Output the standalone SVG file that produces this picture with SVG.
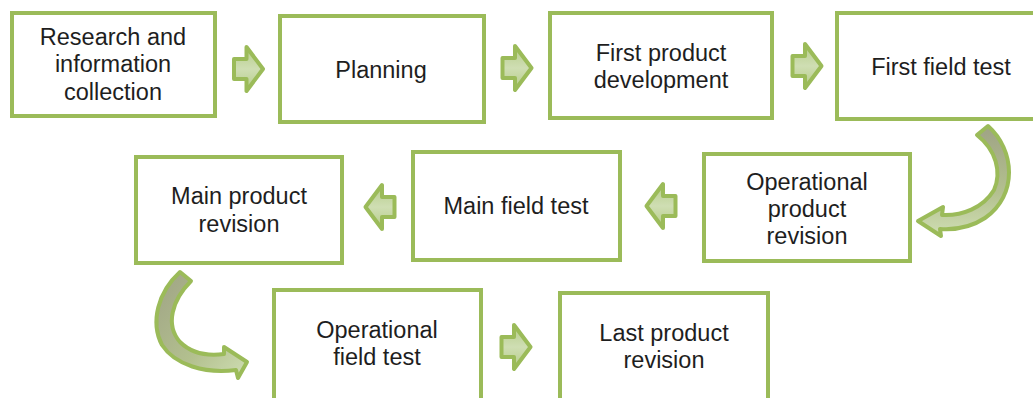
<svg xmlns="http://www.w3.org/2000/svg" width="1033" height="398" viewBox="0 0 1033 398">
<style>
.box{fill:#ffffff;stroke:#9bbb59;stroke-width:4}
.lbl{font-family:"Liberation Sans",Arial,sans-serif;font-size:23.5px;fill:#1e1e1e;text-anchor:middle}
.arr{fill:url(#ag);stroke:#9bbb59;stroke-width:4;stroke-linejoin:round}
.carr{stroke:#9bbb59;stroke-width:4;stroke-linejoin:round}
</style>
<defs>
<linearGradient id="ag" x1="0" y1="0" x2="0" y2="1">
<stop offset="0" stop-color="#b5cc88"/>
<stop offset="0.5" stop-color="#cfdeb3"/>
<stop offset="1" stop-color="#b5cc88"/>
</linearGradient>
<linearGradient id="cg1" x1="0" y1="0" x2="0" y2="1">
<stop offset="0" stop-color="#9fa385"/>
<stop offset="0.6" stop-color="#b3c08f"/>
<stop offset="1" stop-color="#cfdeb3"/>
</linearGradient>
<linearGradient id="cg2" x1="0" y1="0" x2="1" y2="1">
<stop offset="0" stop-color="#9fa385"/>
<stop offset="0.6" stop-color="#b3c08f"/>
<stop offset="1" stop-color="#cfdeb3"/>
</linearGradient>
<path id="ra" d="M -14.5,-10 L -2,-10 L -2,-22 L 14.5,0 L -2,22 L -2,10 L -14.5,10 Z"/>
</defs>

<g id="n1"><rect class="box" x="12" y="13" width="203" height="103"/>
<text class="lbl"><tspan x="113" y="45">Research and</tspan><tspan x="113" y="72">information</tspan><tspan x="113" y="100">collection</tspan></text></g>
<g id="n2"><rect class="box" x="280" y="16" width="204" height="106"/>
<text class="lbl" x="381" y="78">Planning</text></g>
<g id="n3"><rect class="box" x="550" y="13" width="222" height="105"/>
<text class="lbl"><tspan x="661" y="61">First product</tspan><tspan x="661" y="88">development</tspan></text></g>
<g id="n4"><rect class="box" x="837" y="13" width="200" height="106"/>
<text class="lbl" x="941" y="75">First field test</text></g>
<g id="n5"><rect class="box" x="136" y="157" width="206" height="106"/>
<text class="lbl"><tspan x="239" y="204">Main product</tspan><tspan x="239" y="232">revision</tspan></text></g>
<g id="n6"><rect class="box" x="413" y="152" width="207" height="108"/>
<text class="lbl" x="516" y="214">Main field test</text></g>
<g id="n7"><rect class="box" x="704" y="154" width="206" height="107"/>
<text class="lbl"><tspan x="807" y="190">Operational</tspan><tspan x="807" y="217">product</tspan><tspan x="807" y="244">revision</tspan></text></g>
<g id="n8"><rect class="box" x="274" y="290" width="207" height="112"/>
<text class="lbl"><tspan x="377" y="338">Operational</tspan><tspan x="377" y="365">field test</tspan></text></g>
<g id="n9"><rect class="box" x="560" y="293" width="208" height="110"/>
<text class="lbl"><tspan x="664" y="341">Last product</tspan><tspan x="664" y="368">revision</tspan></text></g>

<g id="connectors">
<use href="#ra" class="arr" transform="translate(248.5,69)"/>
<use href="#ra" class="arr" transform="translate(517,68)"/>
<use href="#ra" class="arr" transform="translate(807,66)"/>
<use href="#ra" class="arr" transform="translate(380,207) rotate(180)"/>
<use href="#ra" class="arr" transform="translate(661,206) rotate(180)"/>
<use href="#ra" class="arr" transform="translate(516,347)"/>
<path class="carr" fill="url(#cg1)" d="M 977,135 L 988,126 C 1015,150 1018,195 985,218 C 970,228 955,230 940,229 L 941,236 L 918,221 L 943,207 L 942,215 C 962,216 983,208 994,190 C 1002,172 996,150 977,135 Z"/>
<path class="carr" fill="url(#cg2)" d="M 191,281 C 172,300 165,325 180,342 C 192,354 208,356 224,354 L 224,347 L 247,362 L 238,378 L 236,370 C 205,374 175,365 162,345 C 150,322 158,292 180,272 Z"/>
</g>
</svg>
